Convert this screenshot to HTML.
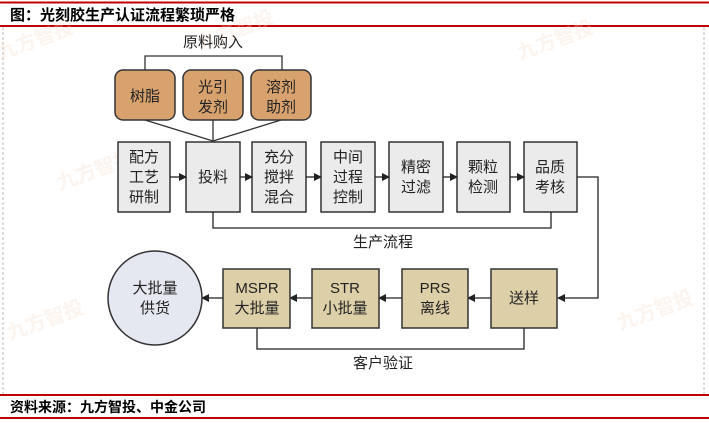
<!DOCTYPE html>
<html><head><meta charset="utf-8"><style>
html,body{margin:0;padding:0;background:#fff;}
svg{display:block;}
text{font-family:"Liberation Sans","Noto Sans CJK SC",sans-serif;}
</style></head><body>
<svg width="709" height="423" viewBox="0 0 709 423" xmlns="http://www.w3.org/2000/svg">
<defs><marker id="a" markerWidth="8" markerHeight="8" refX="7" refY="4" orient="auto" markerUnits="userSpaceOnUse"><path d="M0,0 L8,4 L0,8 z" fill="#222"/></marker></defs>
<line x1="3" y1="27" x2="3" y2="395" stroke="#bbb" stroke-dasharray="3,2"/>
<line x1="704" y1="27" x2="704" y2="395" stroke="#bbb" stroke-dasharray="3,2"/>
<line x1="0" y1="2.5" x2="709" y2="2.5" stroke="#c00000" stroke-width="2"/>
<line x1="0" y1="26" x2="709" y2="26" stroke="#c00000" stroke-width="2"/>
<text x="10" y="20" font-size="15" font-weight="bold" fill="#000">图：光刻胶生产认证流程繁琐严格</text>
<line x1="0" y1="395" x2="709" y2="395" stroke="#c00000" stroke-width="2"/>
<line x1="0" y1="418" x2="709" y2="418" stroke="#c00000" stroke-width="2"/>
<text x="10" y="412" font-size="14" font-weight="bold" fill="#000">资料来源：九方智投、中金公司</text>
<g fill="#f6d9c8" font-size="20" opacity="0.3" font-weight="bold">
<text x="0" y="60" transform="rotate(-20 0 60)">九方智投</text>
<text x="200" y="50" transform="rotate(-20 200 50)">九方智投</text>
<text x="520" y="60" transform="rotate(-20 520 60)">九方智投</text>
<text x="60" y="190" transform="rotate(-20 60 190)">九方智投</text>
<text x="10" y="340" transform="rotate(-20 10 340)">九方智投</text>
<text x="620" y="330" transform="rotate(-20 620 330)">九方智投</text>
</g>
<text x="213" y="47" font-size="15" text-anchor="middle" fill="#222">原料购入</text>
<polyline points="145,70 145,56 282,56 282,70" fill="none" stroke="#333" stroke-width="1.3"/>
<g stroke="#333" stroke-width="1.3" fill="none">
<line x1="145" y1="120" x2="213" y2="141"/><line x1="213" y1="120" x2="213" y2="141"/><line x1="281" y1="120" x2="213" y2="141"/>
</g>
<g fill="#d8a26e" stroke="#333" stroke-width="1.5">
<rect x="115" y="70" width="60" height="50" rx="8"/><rect x="183" y="70" width="60" height="50" rx="8"/><rect x="251" y="70" width="60" height="50" rx="8"/>
</g>
<g font-size="15" fill="#222" text-anchor="middle">
<text x="145" y="101">树脂</text>
<text x="213" y="92">光引</text><text x="213" y="112">发剂</text>
<text x="281" y="92">溶剂</text><text x="281" y="112">助剂</text>
</g>
<g fill="#ebebeb" stroke="#333" stroke-width="1.5">
<rect x="118" y="142" width="52" height="70"/><rect x="186" y="142" width="54" height="70"/><rect x="252" y="142" width="54" height="70"/>
<rect x="321" y="142" width="54" height="70"/><rect x="389" y="142" width="54" height="70"/><rect x="457" y="142" width="53" height="70"/><rect x="524" y="142" width="53" height="70"/>
</g>
<g stroke="#222" stroke-width="1.3" fill="none">
<line x1="170" y1="177" x2="186" y2="177" marker-end="url(#a)"/>
<line x1="240" y1="177" x2="252" y2="177" marker-end="url(#a)"/>
<line x1="306" y1="177" x2="321" y2="177" marker-end="url(#a)"/>
<line x1="375" y1="177" x2="389" y2="177" marker-end="url(#a)"/>
<line x1="443" y1="177" x2="457" y2="177" marker-end="url(#a)"/>
<line x1="510" y1="177" x2="524" y2="177" marker-end="url(#a)"/>
<polyline points="213,212 213,228 551,228 551,212"/>
<polyline points="577,177 598,177 598,298 558,298" marker-end="url(#a)"/>
<line x1="491" y1="298" x2="468" y2="298" marker-end="url(#a)"/>
<line x1="402" y1="298" x2="379" y2="298" marker-end="url(#a)"/>
<line x1="312" y1="298" x2="290" y2="298" marker-end="url(#a)"/>
<line x1="223" y1="298" x2="202" y2="298" marker-end="url(#a)"/>
<polyline points="257,328 257,349 524,349 524,328"/>
</g>
<g font-size="15" fill="#222" text-anchor="middle">
<text x="144" y="162">配方</text><text x="144" y="182">工艺</text><text x="144" y="202">研制</text>
<text x="213" y="182">投料</text>
<text x="279" y="162">充分</text><text x="279" y="182">搅拌</text><text x="279" y="202">混合</text>
<text x="348" y="162">中间</text><text x="348" y="182">过程</text><text x="348" y="202">控制</text>
<text x="416" y="172">精密</text><text x="416" y="192">过滤</text>
<text x="483" y="172">颗粒</text><text x="483" y="192">检测</text>
<text x="550" y="172">品质</text><text x="550" y="192">考核</text>
</g>
<text x="383" y="247" font-size="15" text-anchor="middle" fill="#222">生产流程</text>
<text x="383" y="368" font-size="15" text-anchor="middle" fill="#222">客户验证</text>
<g fill="#ddd0a8" stroke="#333" stroke-width="1.5">
<rect x="491" y="269" width="66" height="59"/><rect x="402" y="269" width="66" height="59"/><rect x="312" y="269" width="67" height="59"/><rect x="223" y="269" width="67" height="59"/>
</g>
<circle cx="155" cy="298" r="47" fill="#e5e7f1" stroke="#333" stroke-width="1.5"/>
<g font-size="15" fill="#222" text-anchor="middle">
<text x="524" y="303">送样</text>
<text x="435" y="293">PRS</text><text x="435" y="313">离线</text>
<text x="345" y="293">STR</text><text x="345" y="313">小批量</text>
<text x="257" y="293">MSPR</text><text x="257" y="313">大批量</text>
<text x="155" y="293">大批量</text><text x="155" y="313">供货</text>
</g>
</svg>
</body></html>
